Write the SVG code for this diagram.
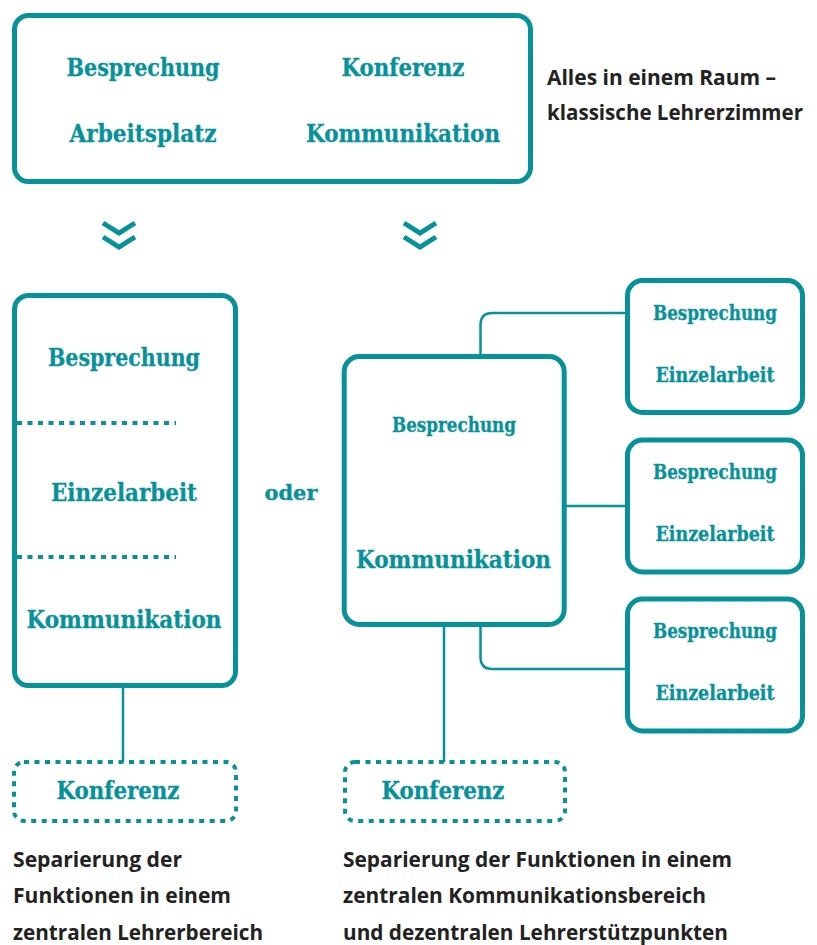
<svg xmlns="http://www.w3.org/2000/svg" width="817" height="945" viewBox="0 0 817 945">
<style>
.box{fill:#fff;stroke:#07929a;stroke-width:5}
.dot{fill:none;stroke:#07929a;stroke-width:4;stroke-dasharray:5 5.5}
.con{fill:none;stroke:#07929a;stroke-width:2.5}
.chev{fill:none;stroke:#07929a;stroke-width:5;stroke-linejoin:miter}
.t{font-family:"DejaVu Serif Condensed","DejaVu Serif","Liberation Serif",serif;font-weight:bold;fill:#07929a;stroke:#07929a;stroke-width:0.3;text-anchor:middle}
.big{font-size:24px}
.sm{font-size:19.5px}
.d{font-family:"Open Sans","Liberation Sans",sans-serif;font-weight:700;font-size:20.7px;fill:#222}
</style>
<rect width="817" height="945" fill="#fff"/>
<g id="connectors">
<line class="con" x1="123" y1="686" x2="123" y2="762"/>
<line class="con" x1="444" y1="624" x2="444" y2="762"/>
<path class="con" d="M480.5 357 V325 Q480.5 313 492.5 313 H628"/>
<line class="con" x1="565" y1="506" x2="628" y2="506"/>
<path class="con" d="M480.5 624 V657 Q480.5 669 492.5 669 H628"/>
</g>
<g id="top">
<rect class="box" x="14.5" y="15.5" width="516" height="166" rx="14"/>
<text class="t big" x="143" y="76" textLength="153" lengthAdjust="spacingAndGlyphs">Besprechung</text>
<text class="t big" x="403" y="76" textLength="123" lengthAdjust="spacingAndGlyphs">Konferenz</text>
<text class="t big" x="143" y="142" textLength="147" lengthAdjust="spacingAndGlyphs">Arbeitsplatz</text>
<text class="t big" x="403" y="142" textLength="194" lengthAdjust="spacingAndGlyphs">Kommunikation</text>
</g>
<g id="top-caption">
<text class="d" x="547" y="85" textLength="229" lengthAdjust="spacingAndGlyphs">Alles in einem Raum –</text>
<text class="d" x="547" y="120" textLength="256" lengthAdjust="spacingAndGlyphs">klassische Lehrerzimmer</text>
</g>
<g id="chevrons">
<path class="chev" d="M103 223 L119 233 L135 223 M103 237 L119 247 L135 237"/>
<path class="chev" d="M404 223 L420 233 L436 223 M404 237 L420 247 L436 237"/>
</g>
<g id="left">
<rect class="box" x="14.5" y="295.5" width="221" height="390" rx="14"/>
<line class="dot" x1="17" y1="423" x2="176" y2="423"/>
<line class="dot" x1="17" y1="557" x2="176" y2="557"/>
<text class="t big" x="124" y="366" textLength="152" lengthAdjust="spacingAndGlyphs">Besprechung</text>
<text class="t big" x="124" y="501" textLength="146" lengthAdjust="spacingAndGlyphs">Einzelarbeit</text>
<text class="t big" x="124" y="628" textLength="195" lengthAdjust="spacingAndGlyphs">Kommunikation</text>
</g>
<g id="oder">
<text class="t sm" x="291" y="500" textLength="53" lengthAdjust="spacingAndGlyphs">oder</text>
</g>
<g id="center">
<rect class="box" x="344.2" y="356.5" width="220" height="268" rx="15"/>
<text class="t sm" x="454" y="432" textLength="124" lengthAdjust="spacingAndGlyphs">Besprechung</text>
<text class="t big" x="453.5" y="568" textLength="195" lengthAdjust="spacingAndGlyphs">Kommunikation</text>
</g>
<g id="sat1">
<rect class="box" x="627.5" y="280.5" width="175" height="132" rx="15"/>
<text class="t sm" x="715" y="320" textLength="124" lengthAdjust="spacingAndGlyphs">Besprechung</text>
<text class="t sm" x="715" y="382" textLength="119" lengthAdjust="spacingAndGlyphs">Einzelarbeit</text>
</g>
<g id="sat2">
<rect class="box" x="627.5" y="440" width="175" height="132" rx="15"/>
<text class="t sm" x="715" y="479" textLength="124" lengthAdjust="spacingAndGlyphs">Besprechung</text>
<text class="t sm" x="715" y="541" textLength="119" lengthAdjust="spacingAndGlyphs">Einzelarbeit</text>
</g>
<g id="sat3">
<rect class="box" x="627.5" y="599" width="175" height="132" rx="15"/>
<text class="t sm" x="715" y="638" textLength="124" lengthAdjust="spacingAndGlyphs">Besprechung</text>
<text class="t sm" x="715" y="700" textLength="119" lengthAdjust="spacingAndGlyphs">Einzelarbeit</text>
</g>
<g id="konf-left">
<rect class="dot" x="14" y="762" width="222" height="59" rx="10"/>
<text class="t big" x="118" y="799" textLength="123" lengthAdjust="spacingAndGlyphs">Konferenz</text>
</g>
<g id="konf-right">
<rect class="dot" x="345" y="762" width="220" height="59" rx="10"/>
<text class="t big" x="443" y="799" textLength="123" lengthAdjust="spacingAndGlyphs">Konferenz</text>
</g>
<g id="captions">
<text class="d" x="13" y="867" textLength="169" lengthAdjust="spacingAndGlyphs">Separierung der</text>
<text class="d" x="13" y="903" textLength="218" lengthAdjust="spacingAndGlyphs">Funktionen in einem</text>
<text class="d" x="13" y="940" textLength="250" lengthAdjust="spacingAndGlyphs">zentralen Lehrerbereich</text>
<text class="d" x="343" y="867" textLength="389" lengthAdjust="spacingAndGlyphs">Separierung der Funktionen in einem</text>
<text class="d" x="343" y="903" textLength="363" lengthAdjust="spacingAndGlyphs">zentralen Kommunikationsbereich</text>
<text class="d" x="343" y="940" textLength="385" lengthAdjust="spacingAndGlyphs">und dezentralen Lehrerstützpunkten</text>
</g>
</svg>
